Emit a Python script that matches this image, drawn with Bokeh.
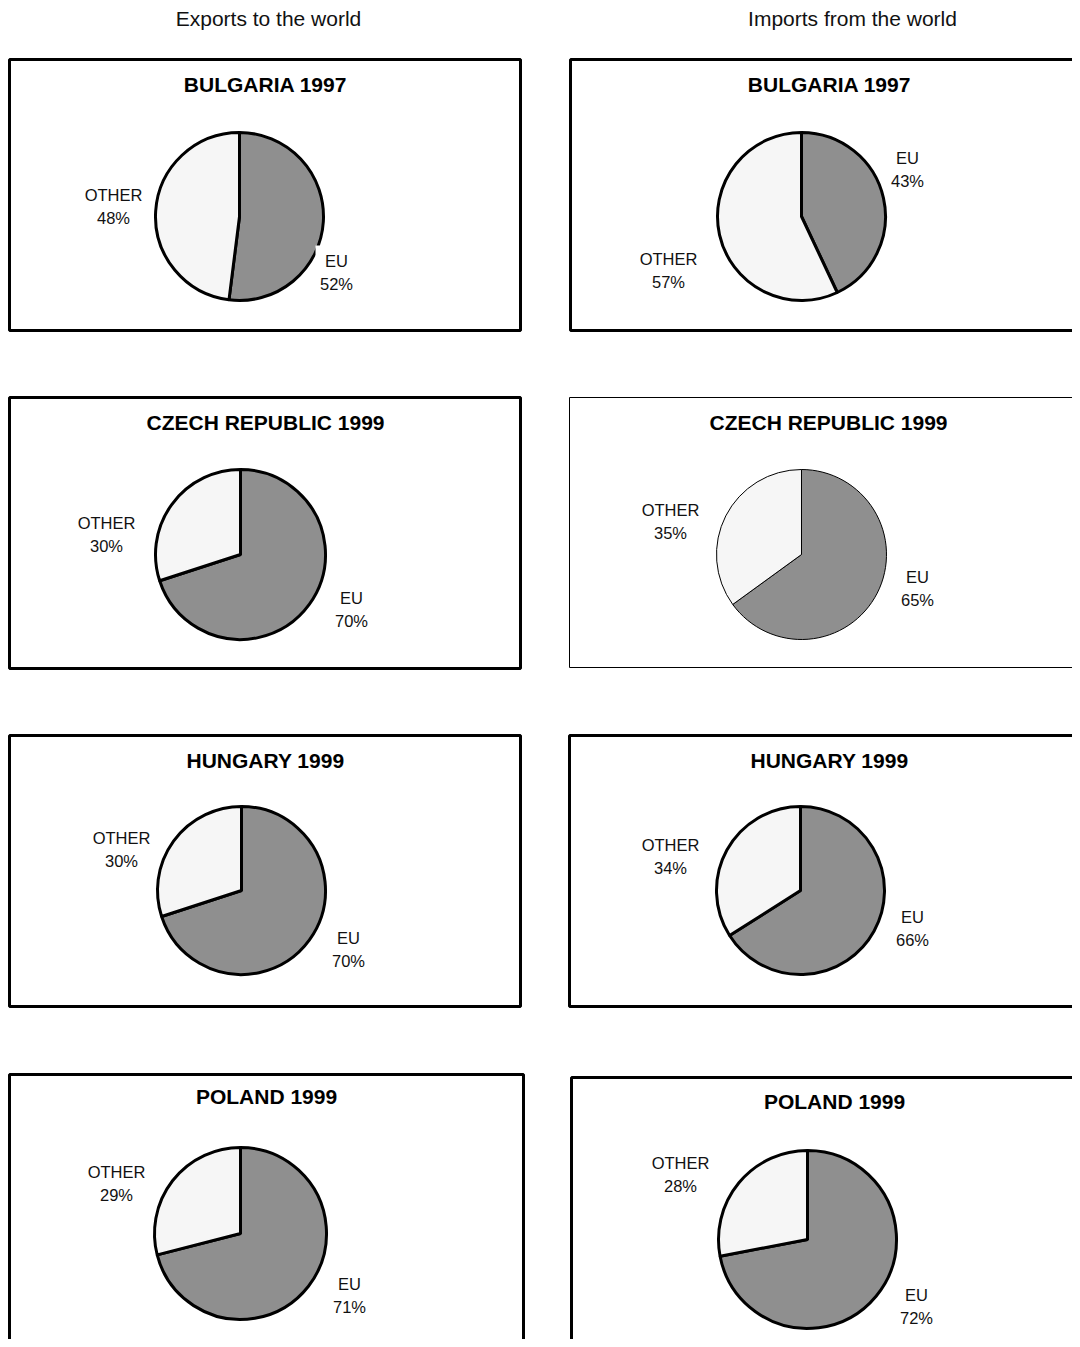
import math
from bokeh.plotting import figure
from bokeh.models import ColumnDataSource, Range1d
from bokeh.core.properties import value
from bokeh.embed import file_html
from bokeh.resources import INLINE

# ---------------- data ----------------
headers = ["Exports to the world", "Imports from the world"]
countries = ["BULGARIA 1997", "CZECH REPUBLIC 1999", "HUNGARY 1999", "POLAND 1999"]
exports_eu = [52, 70, 70, 71]
exports_other = [48, 30, 30, 29]
imports_eu = [43, 65, 66, 72]
imports_other = [57, 35, 34, 28]
slice_names = ["EU", "OTHER"]

# ---------------- layout (page pixels) ----------------
W, H = 1072, 1339
header_x = [268, 852]
header_y = 18

# boxes: (left, right, top, bottom)
box_left = [(9, 520, 59, 330), (9, 520, 397, 668), (9, 520, 735, 1006), (9, 523, 1074, 1345)]
box_right = [(570, 1095, 59, 330), (569, 1095, 397, 667), (569, 1095, 735, 1006), (571, 1095, 1077, 1365)]
title_left = [(265, 84), (265, 422), (265, 760), (266, 1096)]
title_right = [(829, 84), (828, 422), (829, 760), (834, 1101)]
pie_left = [(239, 216, 84), (240, 554, 85), (241, 890, 84), (240, 1233, 86)]
pie_right = [(801, 216, 84), (801, 554, 85), (800, 890, 84), (807, 1239, 89)]
# label anchor (EU, OTHER)
lab_left = [((336, 260), (113, 194)), ((351, 597), (106, 522)), ((348, 937), (121, 837)), ((349, 1283), (116, 1171))]
lab_right = [((907, 157), (668, 258)), ((917, 576), (670, 509)), ((912, 916), (670, 844)), ((916, 1294), (680, 1162))]
line_w_left = [3, 3, 3, 3]
line_w_right = [3, 1, 3, 3]

EU_COLOR = "#8f8f8f"
OTHER_COLOR = "#f6f6f6"
FONT = "Liberation Sans"

p = figure(width=W, height=H, output_backend="svg", toolbar_location=None,
           x_range=Range1d(0, W), y_range=Range1d(-H, 0),
           min_border=0, outline_line_color=None)
p.xaxis.visible = False
p.yaxis.visible = False
p.grid.visible = False
p.background_fill_color = "white"
p.border_fill_color = "white"

# headers
p.text(x=header_x, y=[-header_y] * 2, text=headers, text_font=value(FONT),
       text_font_size="21px", text_align="center", text_baseline="middle", text_color="#111111")

texts = []

def panel(box, title, pie, labs, lw, eu, other, name):
    l, r, t, b = box
    p.quad(left=[l], right=[r], top=[-t], bottom=[-b], fill_color=None,
           line_color="black", line_width=lw)
    cx, cy, rad = pie
    fr = eu / (eu + other)
    start = [math.pi / 2, math.pi / 2 - 2 * math.pi * fr]
    end = [math.pi / 2 - 2 * math.pi * fr, math.pi / 2 - 2 * math.pi]
    src = ColumnDataSource(dict(x=[cx, cx], y=[-cy, -cy], r=[rad, rad], s=start, e=end,
                                c=[EU_COLOR, OTHER_COLOR], n=slice_names))
    p.wedge(x="x", y="y", radius="r", start_angle="s", end_angle="e", direction="clock",
            fill_color="c", line_color="black", line_width=lw, source=src)
    vals = [eu, other]
    xs, ys, ts = [], [], []
    for (lx, ly), nm, v in zip(labs, slice_names, vals):
        xs += [lx, lx]
        ys += [-ly, -(ly + 23)]
        ts += [nm, f"{v}%"]
    texts.append((title, name, xs, ys, ts))

for i in range(4):
    panel(box_left[i], title_left[i], pie_left[i], lab_left[i], line_w_left[i],
          exports_eu[i], exports_other[i], countries[i])
    panel(box_right[i], title_right[i], pie_right[i], lab_right[i], line_w_right[i],
          imports_eu[i], imports_other[i], countries[i])

# small white label background clipping the Bulgaria export pie edge
p.quad(left=[315], right=[330], top=[-245], bottom=[-262], fill_color="white", line_color=None)

for title, name, xs, ys, ts in texts:
    p.text(x=[title[0]], y=[-title[1]], text=[name], text_font=value(FONT),
           text_font_size="21px", text_font_style="bold", text_align="center",
           text_baseline="middle", text_color="black")
    p.text(x=xs, y=ys, text=ts, text_font=value(FONT), text_font_size="16.5px",
           text_align="center", text_baseline="middle", text_color="#111111")

open("out.html", "w").write(file_html(p, INLINE))
